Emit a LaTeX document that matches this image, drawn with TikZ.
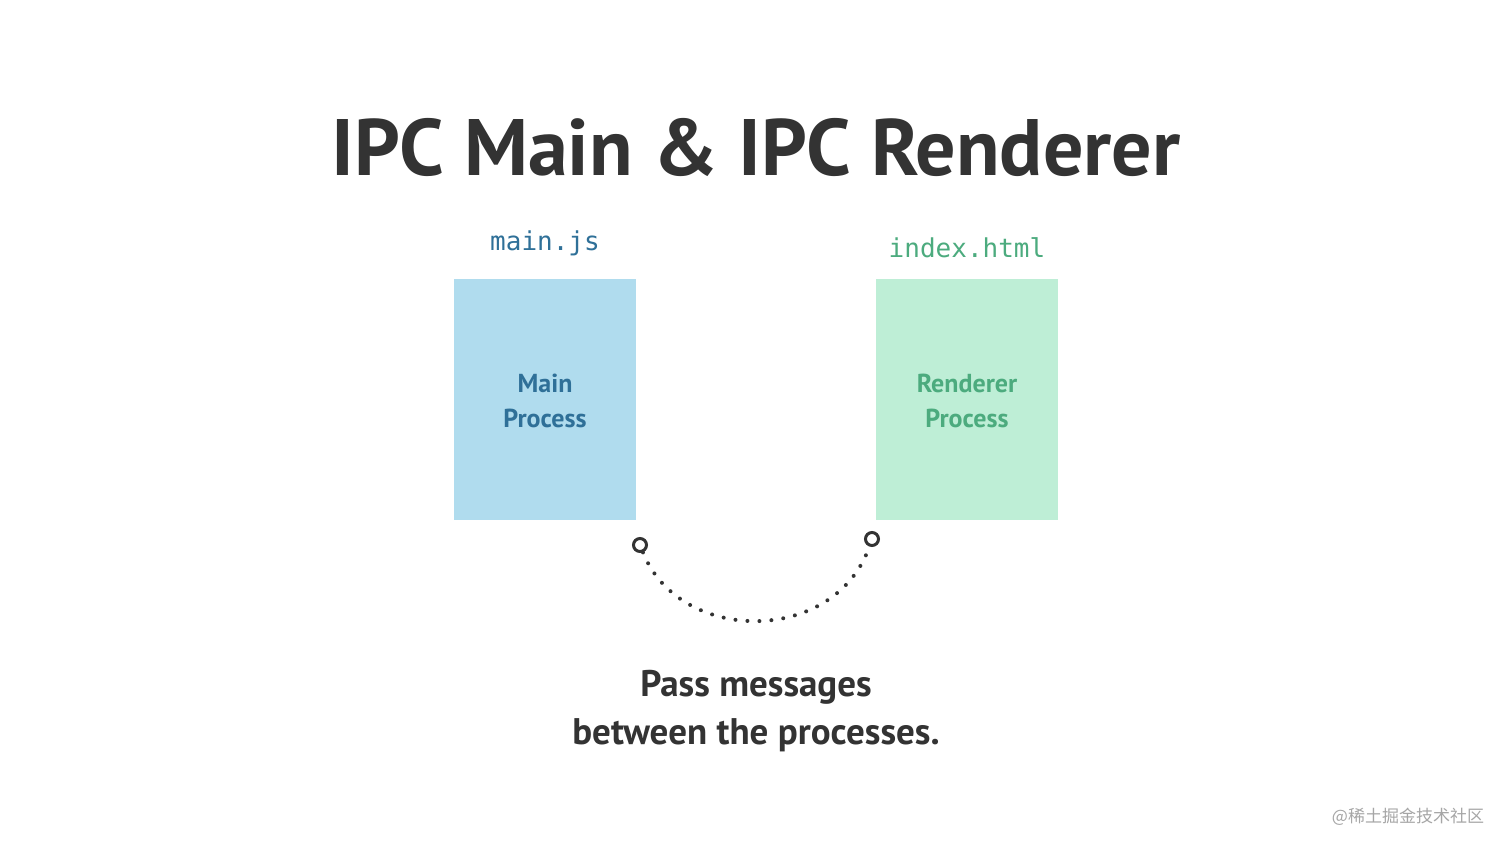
\documentclass[tikz,border=0pt]{standalone}
\usepackage{fontspec}
\setmainfont{PT Sans}
\newfontfamily\monof{DejaVu Sans Mono}
\newfontfamily\cjkf{Noto Sans CJK SC}
\definecolor{txt}{HTML}{333333}
\definecolor{bluefill}{HTML}{B0DCEE}
\definecolor{greenfill}{HTML}{BEEED6}
\definecolor{bluetxt}{HTML}{2F7098}
\definecolor{greentxt}{HTML}{4CAB7E}
\begin{document}
\begin{tikzpicture}[x=1pt,y=-1pt,
  box/.style={minimum width=182pt,minimum height=241pt,inner sep=0pt},
  lbl/.style={font=\bfseries\fontsize{26}{35}\selectfont,align=center},
  fname/.style={font=\monof\fontsize{26}{30}\selectfont},
  endc/.style={circle,draw=txt,line width=3pt,minimum size=13pt,inner sep=0pt}]
\useasboundingbox[fill=white] (0,0) rectangle (1512,851);
\node[font=\bfseries\fontsize{80}{90}\selectfont,text=txt] (title) at (756,147) {IPC Main \& IPC Renderer};
\node[box,fill=bluefill] (main) at (545,399.5) {};
\node[box,fill=greenfill] (rend) at (967,399.5) {};
\node[lbl,text=bluetxt] (mainl) at (545,401) {Main\\Process};
\node[lbl,text=greentxt] (rendl) at (967,401) {Renderer\\Process};
\node[fname,text=bluetxt] (mainjs) at (545,243) {main.js};
\node[fname,text=greentxt] (indexh) at (967,248) {index.html};
\node[endc] (c1) at (640,545) {};
\node[endc] (c2) at (872,539) {};
\draw[txt,line width=4pt,line cap=round,dash pattern=on 0pt off 12pt] (c1) .. controls (680,645) and (835,645) .. (c2);
\node[font=\bfseries\fontsize{37}{48}\selectfont,text=txt,align=center] (cap) at (756,711) {Pass messages\\between the processes.};
\node[font=\cjkf\fontsize{17}{20}\selectfont,text=gray!70] (wm) at (1408,817) {@稀土掘金技术社区};
\end{tikzpicture}
\end{document}
